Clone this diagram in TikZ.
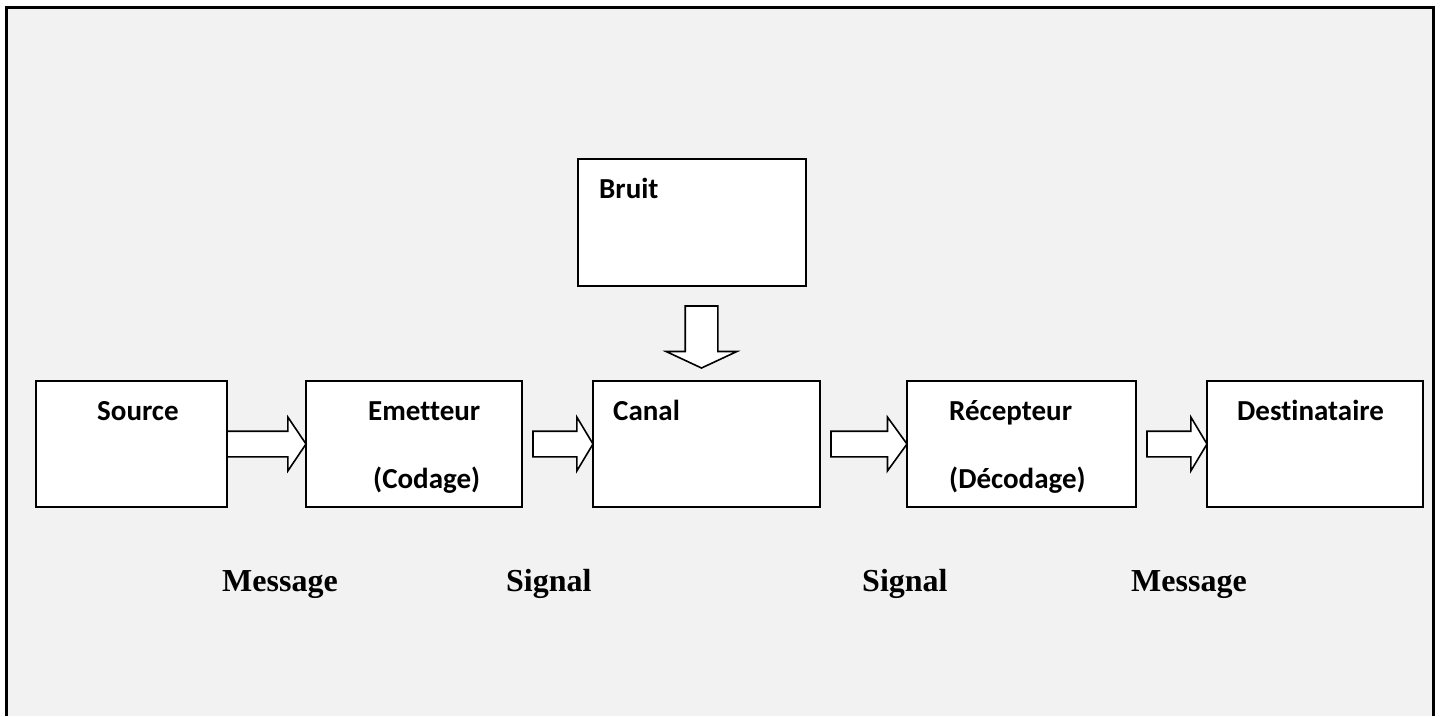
\documentclass[tikz,border=0pt]{standalone}
\usepackage{fontspec}
\setmainfont{Liberation Serif}
\newfontfamily\blockfont[Ligatures=NoCommon]{Carlito}
\usepackage{tikz}
\usetikzlibrary{shapes.arrows, positioning}

\begin{document}
\begin{tikzpicture}[x=1pt, y=-1pt,
    blk/.style={rectangle, draw=black, fill=white, line width=1.8pt,
                minimum height=126pt, inner sep=0pt, outer sep=0pt},
    barrow/.style={single arrow, draw=black, fill=white, line width=1.6pt,
                   single arrow head extend=14pt,
                   single arrow tip angle=112, inner sep=12pt, outer sep=0pt,
                   anchor=tip},
    txt/.style={font=\blockfont\bfseries\fontsize{29}{34}\selectfont,
                inner sep=0pt, anchor=base west},
    sig/.style={font=\bfseries\fontsize{32}{38}\selectfont,
                inner sep=0pt, anchor=base west}]

  \useasboundingbox (0,0) rectangle (1440,716);
  \fill[white] (0,0) rectangle (1440,716);
  \fill[black!5] (6.5,7.5) rectangle (1433.5,716);
  \draw[line width=3.5pt] (6.5,716) -- (6.5,7.5) -- (1433.5,7.5) -- (1433.5,716);

  % blocks
  \node[blk, minimum width=191pt] (src)   at (131.5,444)  {};
  \node[blk, minimum width=216pt] (emet)  at (414,444)    {};
  \node[blk, minimum width=227pt] (canal) at (706.5,444)  {};
  \node[blk, minimum width=229pt] (recep) at (1021.5,444) {};
  \node[blk, minimum width=216pt] (dest)  at (1315,444)   {};
  \node[blk, minimum width=228pt, minimum height=127pt] (bruit) at (692,222.5) {};

  \node[txt] (tsrc)   at (97,420)   {Source};
  \node[txt] (temet)  at (368,420)  {Emetteur};
  \node[txt] (tcod)   at (373,488)  {(Codage)};
  \node[txt] (tcanal) at (613,420)  {Canal};
  \node[txt] (trecep) at (949,420)  {Récepteur};
  \node[txt] (tdec)   at (949,488)  {(Décodage)};
  \node[txt] (tdest)  at (1237,420) {Destinataire};
  \node[txt] (tbruit) at (599,198)  {Bruit};

  % block arrows
  \node[barrow, minimum height=79pt] (a1) at (emet.west)  {};
  \node[barrow, minimum height=60pt, single arrow tip angle=118] (a2) at (canal.west) {};
  \node[barrow, minimum height=76pt, single arrow tip angle=108] (a3) at (recep.west) {};
  \node[barrow, minimum height=60pt, single arrow tip angle=118] (a4) at (dest.west)  {};
  \node[barrow, shape border rotate=270, minimum height=62pt, inner sep=15.5pt,
        single arrow head extend=19pt, single arrow tip angle=130] (a0) at (701.5,368) {};

  \node[sig] (m1) at (222,591)  {Message};
  \node[sig] (s1) at (506,591)  {Signal};
  \node[sig] (s2) at (862,591)  {Signal};
  \node[sig] (m2) at (1131,591) {Message};
\end{tikzpicture}
\end{document}
